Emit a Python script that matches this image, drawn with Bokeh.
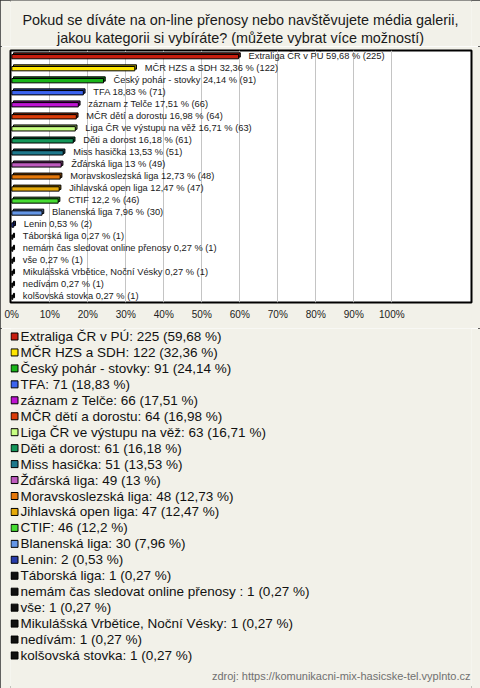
import numpy as np
from bokeh.plotting import figure
from bokeh.models import ColumnDataSource, Range1d, FixedTicker, PrintfTickFormatter
from bokeh.layouts import column
from bokeh.embed import file_html
from bokeh.resources import INLINE
from bokeh.core.properties import value

# ---------------- data ----------------
title_lines = [
    "Pokud se díváte na on-line přenosy nebo navštěvujete média galerii,",
    "jakou kategorii si vybíráte? (můžete vybrat více možností)",
]
categories = [
    "Extraliga ČR v PÚ",
    "MČR HZS a SDH",
    "Český pohár - stovky",
    "TFA",
    "záznam z Telče",
    "MČR dětí a dorostu",
    "Liga ČR ve výstupu na věž",
    "Děti a dorost",
    "Miss hasička",
    "Žďárská liga",
    "Moravskoslezská liga",
    "Jihlavská open liga",
    "CTIF",
    "Blanenská liga",
    "Lenin",
    "Táborská liga",
    "nemám čas sledovat online přenosy ",
    "vše",
    "Mikulášská Vrbětice, Noční Vésky",
    "nedívám",
    "kolšovská stovka",
]
counts = [225, 122, 91, 71, 66, 64, 63, 61, 51, 49, 48, 47, 46, 30, 2, 1, 1, 1, 1, 1, 1]
percents = [59.68, 32.36, 24.14, 18.83, 17.51, 16.98, 16.71, 16.18, 13.53, 13, 12.73,
            12.47, 12.2, 7.96, 0.53, 0.27, 0.27, 0.27, 0.27, 0.27, 0.27]
colors = ["#c81e0f", "#ffe600", "#19b419", "#3c64f0", "#be14d2", "#dc3c0a", "#c8ff82",
          "#14965a", "#1e788c", "#be5abe", "#e6780a", "#e6aa0a", "#46dc32", "#6496e6",
          "#283caa", "#101010", "#101010", "#101010", "#101010", "#101010", "#101010"]
tick_values = [0, 10, 20, 30, 40, 50, 60, 70, 80, 90, 100]
source_note = "zdroj: https://komunikacni-mix-hasicske-tel.vyplnto.cz"

# ---------------- style ----------------
FONT = "Liberation Sans"
BG = "#f2f1e9"
W = 480
HT = 46   # title strip
HA = 282  # chart
HB = 360  # legend + note
FL, FR = 10, 471  # common frame edges (column aligns plot frames)


def fmt(v):
    return ("%g" % v).replace(".", ",")


def darker(c, f=0.6):
    r, g, b = int(c[1:3], 16), int(c[3:5], 16), int(c[5:7], 16)
    return "#%02x%02x%02x" % (int(r * f), int(g * f), int(b * f))


idx = np.arange(len(categories))
pct = np.array(percents, dtype=float)
dx = 0.45  # 3D depth (in % units)

src = ColumnDataSource(dict(
    y=idx,
    y_front=idx + 0.06,
    y_back=idx - 0.08,
    pct=pct,
    back_left=np.zeros_like(pct) + dx,
    back_right=pct + dx,
    color=colors,
    dark=[darker(c) for c in colors],
    lbl=["%s %s %% (%d)" % (c, fmt(p), n) for c, p, n in zip(categories, percents, counts)],
    leg=["%s: %d (%s %%)" % (c, n, fmt(p)) for c, p, n in zip(categories, percents, counts)],
))

# ---------------- title strip ----------------
pT = figure(width=W, height=HT, x_range=Range1d(FL, FR), y_range=Range1d(HT, 0),
            x_axis_type=None, y_axis_type=None,
            min_border_left=FL, min_border_right=W - FR, min_border_top=0, min_border_bottom=0,
            output_backend="svg", toolbar_location=None,
            background_fill_color=BG, border_fill_color=BG, outline_line_color=None)
pT.grid.visible = False
tsrc = ColumnDataSource(dict(x=[W / 2, W / 2], y=[19.5, 37.0], t=title_lines))
pT.text(x="x", y="y", text="t", source=tsrc, text_align="center", text_baseline="middle",
        text_font=value(FONT), text_font_size="14.4px", text_color="#1a1a1a")

# ---------------- chart figure ----------------
pA = figure(width=W, height=HA,
            x_range=Range1d(-0.342, 120.97), y_range=Range1d(20.5, -0.45),
            output_backend="svg", toolbar_location=None, y_axis_type=None,
            min_border_left=FL, min_border_right=W - FR, min_border_top=4, min_border_bottom=26,
            background_fill_color="white", border_fill_color=BG,
            outline_line_color="black", outline_line_width=2)

pA.xgrid.ticker = FixedTicker(ticks=tick_values[1:])
pA.xgrid.grid_line_color = "#c4c4c4"
pA.ygrid.grid_line_color = None

ax = pA.xaxis[0]
ax.ticker = FixedTicker(ticks=tick_values)
ax.formatter = PrintfTickFormatter(format="%d%%")
ax.axis_line_color = None
ax.major_tick_line_color = None
ax.minor_tick_line_color = None
ax.major_tick_out = 0
ax.major_tick_in = 0
ax.major_label_text_font = FONT
ax.major_label_text_font_size = "10px"
ax.major_label_text_color = "#222222"
ax.major_label_standoff = 6

# 3D-ish bars: back (depth) then front face
pA.hbar(y="y_back", left="back_left", right="back_right", height=0.36, source=src,
        fill_color="dark", line_color="black", line_width=1)
pA.hbar(y="y_front", left=0, right="pct", height=0.36, source=src,
        fill_color="color", line_color="black", line_width=1)

pA.text(x="pct", y="y", text="lbl", source=src, x_offset=10,
        text_baseline="middle", text_align="left",
        text_font=value(FONT), text_font_size="9.3px", text_color="#1a1a1a")

# ---------------- legend figure ----------------
pB = figure(width=W, height=HB,
            x_range=Range1d(FL, FR), y_range=Range1d(22.069, -0.5016),
            x_axis_type=None, y_axis_type=None,
            min_border_left=FL, min_border_right=W - FR, min_border_top=0, min_border_bottom=0,
            output_backend="svg", toolbar_location=None,
            background_fill_color=BG, border_fill_color=BG, outline_line_color=None)
pB.grid.visible = False

pB.scatter(x=14, y="y", marker="square", size=7, source=src,
           fill_color="color", line_color="black", line_width=1)
pB.text(x=20, y="y", text="leg", source=src, text_baseline="middle", text_align="left",
        text_font=value(FONT), text_font_size="13.5px", text_color="#111111")

nsrc = ColumnDataSource(dict(x=[470], y=[21.3], t=[source_note]))
pB.text(x="x", y="y", text="t", source=nsrc, text_align="right", text_baseline="middle",
        text_font=value(FONT), text_font_size="11px", text_color="#707070")

layout = column(pT, pA, pB, spacing=0,
                styles={"outline": "2px solid #303030", "outline-offset": "-2px"})
open("out.html", "w").write(file_html(layout, INLINE))
